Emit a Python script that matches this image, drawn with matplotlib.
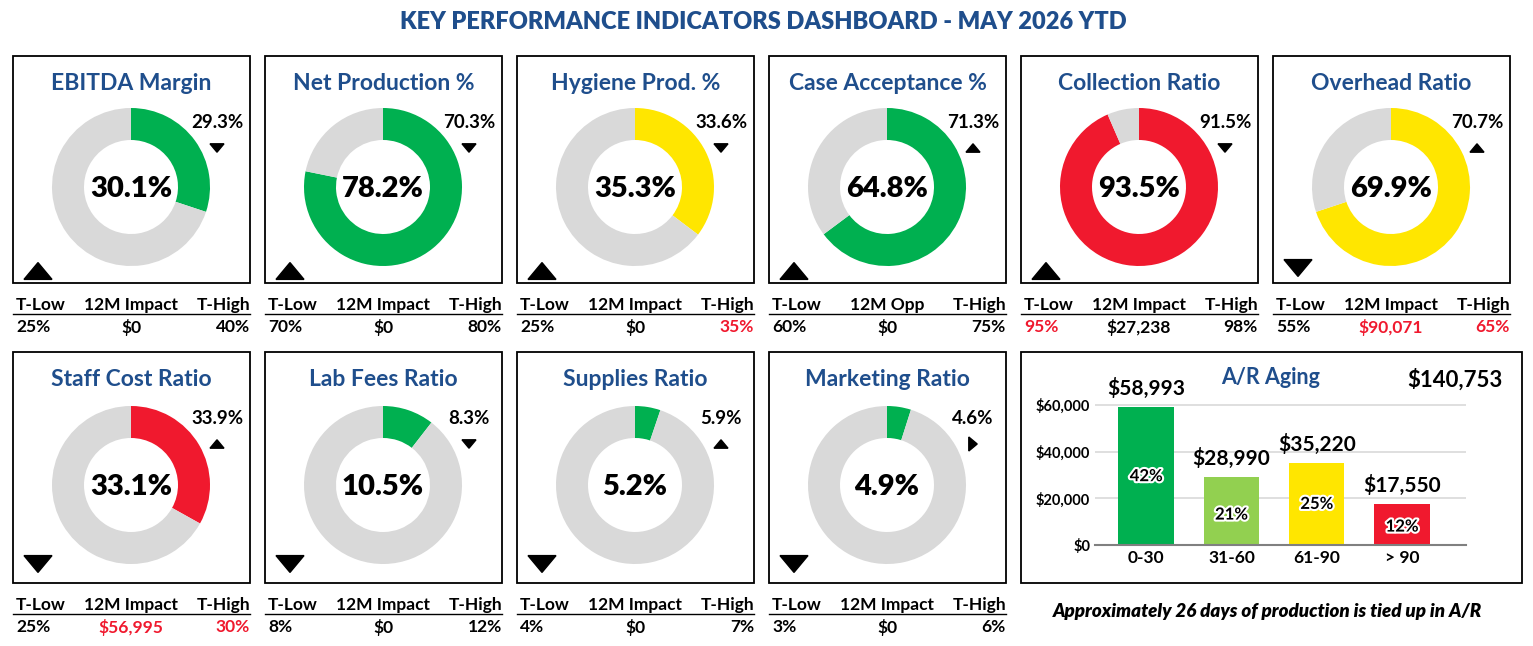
import matplotlib
matplotlib.use("Agg")
import matplotlib.pyplot as plt
from matplotlib.patches import Wedge, Rectangle, Polygon
import matplotlib.patheffects as pe

plt.rcParams['font.family'] = ['Lato', 'DejaVu Sans']

titles = ["EBITDA Margin", "Net Production %", "Hygiene Prod. %", "Case Acceptance %",
          "Collection Ratio", "Overhead Ratio", "Staff Cost Ratio", "Lab Fees Ratio",
          "Supplies Ratio", "Marketing Ratio"]
values = [30.1, 78.2, 35.3, 64.8, 93.5, 69.9, 33.1, 10.5, 5.2, 4.9]
prior = ["29.3%", "70.3%", "33.6%", "71.3%", "91.5%", "70.7%", "33.9%", "8.3%", "5.9%", "4.6%"]
prior_arrow = ["v", "v", "v", "^", "v", "^", "^", "v", "^", ">"]
corner_arrow = ["^", "^", "^", "^", "^", "v", "v", "v", "v", "v"]
ring_colors = ["#00B050", "#00B050", "#FFE600", "#00B050", "#F0192E", "#FFE600",
               "#F0192E", "#00B050", "#00B050", "#00B050"]
mid_label = ["12M Impact", "12M Impact", "12M Impact", "12M Opp", "12M Impact", "12M Impact",
             "12M Impact", "12M Impact", "12M Impact", "12M Impact"]
t_low = ["25%", "70%", "25%", "60%", "95%", "55%", "25%", "8%", "4%", "3%"]
impact = ["$0", "$0", "$0", "$0", "$27,238", "$90,071", "$56,995", "$0", "$0", "$0"]
t_high = ["40%", "80%", "35%", "75%", "98%", "65%", "30%", "12%", "7%", "6%"]
low_red = [False, False, False, False, True, False, False, False, False, False]
imp_red = [False, False, False, False, False, True, True, False, False, False]
high_red = [False, False, True, False, False, True, True, False, False, False]

ar_buckets = ["0-30", "31-60", "61-90", "> 90"]
ar_values = [58993, 28990, 35220, 17550]
ar_pct = ["42%", "21%", "25%", "12%"]
ar_colors = ["#00B050", "#92D050", "#FFE600", "#F0192E"]
ar_total = "$140,753"

BLUE = "#1F4E8C"
GREY = "#D9D9D9"
RED = "#F0192E"

fig = plt.figure(figsize=(15.33, 6.46), dpi=100)
ax = fig.add_axes([0, 0, 1, 1])
ax.set_xlim(0, 1533)
ax.set_ylim(646, 0)
ax.axis('off')

ax.text(763, 22, "KEY PERFORMANCE INDICATORS DASHBOARD - MAY 2026 YTD", ha='center', va='center',
        fontsize=17, fontweight='heavy', color=BLUE)

def tri(x, y, kind, s):
    if kind == "^":
        pts = [(x - s, y + s * 0.6), (x + s, y + s * 0.6), (x, y - s * 0.6)]
    elif kind == "v":
        pts = [(x - s, y - s * 0.6), (x + s, y - s * 0.6), (x, y + s * 0.6)]
    else:
        pts = [(x - s * 0.6, y - s), (x - s * 0.6, y + s), (x + s * 0.6, y)]
    ax.add_patch(Polygon(pts, closed=True, color='black'))

for i in range(10):
    row, col = divmod(i, 6)
    x0 = 13 + col * 252
    y0 = 56 if row == 0 else 352
    h = 227 if row == 0 else 231
    w = 237
    ax.add_patch(Rectangle((x0, y0), w, h, fill=False, lw=1.3, ec='black'))
    cx, cy = x0 + 118, y0 + (131 if row == 0 else 133)
    ax.text(x0 + w / 2, y0 + 28, titles[i], ha='center', va='center', fontsize=16.5,
            color=BLUE, fontweight='bold')
    ang = values[i] / 100 * 360
    # y axis is inverted: data angle -90 is screen top, increasing data angle runs clockwise on screen
    ax.add_patch(Wedge((cx, cy), 79, -90, -90 + ang, width=32, color=ring_colors[i], lw=0))
    ax.add_patch(Wedge((cx, cy), 79, -90 + ang, 270, width=32, color=GREY, lw=0))
    ax.text(cx, cy + 2, f"{values[i]:.1f}%", ha='center', va='center', fontsize=21, fontweight='heavy')
    ax.text(x0 + 204, y0 + 67, prior[i], ha='center', va='center', fontsize=13.5, fontweight='bold')
    tri(x0 + 204, y0 + 92, prior_arrow[i], 7)
    if corner_arrow[i] == "^":
        tri(x0 + 25, y0 + 215, "^", 14)
    else:
        tri(x0 + 25, y0 + 212, "v", 14)
    ly = y0 + h + 22
    ax.text(x0 + 3, ly, "T-Low", ha='left', va='center', fontsize=12.5, fontweight='bold')
    ax.text(x0 + 118, ly, mid_label[i], ha='center', va='center', fontsize=12.5, fontweight='bold')
    ax.text(x0 + w, ly, "T-High", ha='right', va='center', fontsize=12.5, fontweight='bold')
    ax.plot([x0, x0 + w], [ly + 9, ly + 9], color='black', lw=1)
    vy = ly + 22
    ax.text(x0 + 3, vy, t_low[i], ha='left', va='center', fontsize=12.5, fontweight='bold',
            color=RED if low_red[i] else 'black')
    ax.text(x0 + 118, vy, impact[i], ha='center', va='center', fontsize=12.5, fontweight='bold',
            color=RED if imp_red[i] else 'black')
    ax.text(x0 + w, vy, t_high[i], ha='right', va='center', fontsize=12.5, fontweight='bold',
            color=RED if high_red[i] else 'black')

# A/R panel
ax.add_patch(Rectangle((1021, 352), 501, 231, fill=False, lw=1.3, ec='black'))
ax.text(1271, 377, "A/R Aging", ha='center', va='center', fontsize=15.5, color=BLUE, fontweight='bold')
ax.text(1455, 380, ar_total, ha='center', va='center', fontsize=16, fontweight='bold')
ax.text(1268, 612, "Approximately 26 days of production is tied up in A/R", ha='center', va='center',
        fontsize=13.5, fontweight='heavy', style='italic')

W, H = 1533, 646
px0, px1, py0, py1 = 1095, 1466, 380, 545
bax = fig.add_axes([px0 / W, 1 - py1 / H, (px1 - px0) / W, (py1 - py0) / H])
xs = range(len(ar_values))
bax.bar(xs, ar_values, width=0.65, color=ar_colors)
bax.set_ylim(0, 60000 * (py1 - py0) / 140)
bax.set_xlim(-0.6, 3.75)
bax.set_yticks([0, 20000, 40000, 60000])
bax.set_yticklabels(["$0", "$20,000", "$40,000", "$60,000"], fontsize=10.5, fontweight='bold')
bax.set_xticks(list(xs))
bax.set_xticklabels(ar_buckets, fontsize=12.5, fontweight='bold')
bax.grid(axis='y', color='#D9D9D9', lw=1.2)
bax.set_axisbelow(True)
for s in ['top', 'right', 'left']:
    bax.spines[s].set_visible(False)
bax.spines['bottom'].set_color('#808080')
bax.spines['bottom'].set_linewidth(1.5)
bax.tick_params(length=0)
bax.patch.set_alpha(0)
for x, v, p in zip(xs, ar_values, ar_pct):
    bax.text(x, v + 3500, f"${v:,}", ha='center', va='bottom', fontsize=15, fontweight='bold')
    t = bax.text(x, v * 0.5 if v > 30000 else v * 0.45, p, ha='center', va='center', fontsize=12,
                 fontweight='bold', color='black')
    t.set_path_effects([pe.withStroke(linewidth=3, foreground='white')])

fig.savefig("out.png", dpi=100)
